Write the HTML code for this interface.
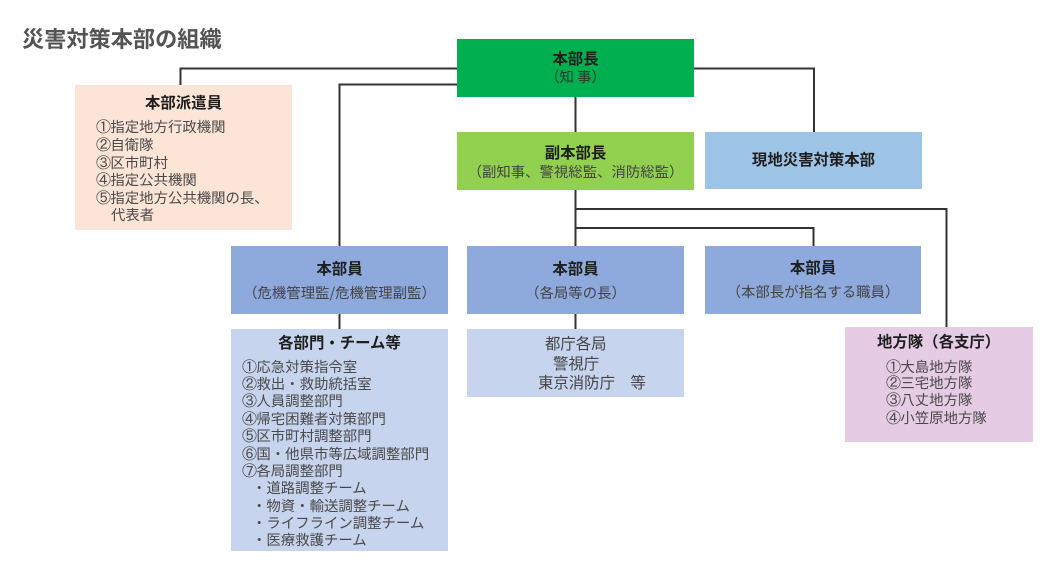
<!DOCTYPE html>
<html><head><meta charset="utf-8">
<style>
html,body{margin:0;padding:0;background:#fff;}
body{width:1057px;height:573px;position:relative;overflow:hidden;font-family:"Liberation Sans","Noto Sans CJK JP",sans-serif;}
.b{position:absolute;}
.t{position:absolute;white-space:nowrap;line-height:18px;height:18px;}
.c{text-align:center;}
.h{font-weight:bold;font-size:15.4px;color:#1e1e1e;font-family:"Noto Sans CJK JP",sans-serif;}
.s{font-size:14.4px;color:#444;font-family:"Noto Sans CJK JP",sans-serif;}
.i{font-size:14.4px;color:#4a4a4a;font-family:"Noto Sans CJK JP",sans-serif;}
.m{font-size:15.4px;color:#444;font-family:"Noto Sans CJK JP",sans-serif;}
.n{display:inline-block;width:14.4px;text-align:center;font-family:"IPAGothic","Noto Sans CJK JP",sans-serif;font-size:15px;}
</style></head><body>

<div class="t" style="left:22px;top:26px;font-size:22.2px;line-height:24px;height:24px;font-weight:bold;color:#545454;font-family:'Noto Sans CJK JP',sans-serif;">災害対策本部の組織</div>

<svg class="b" style="left:0;top:0" width="1057" height="573">
<g stroke="#333" stroke-width="2" fill="none">
<polyline points="180.5,85 180.5,68.5 457,68.5"/>
<polyline points="339.5,246 339.5,84.5 457,84.5"/>
<polyline points="694,68.5 814,68.5 814,132"/>
<line x1="575.5" y1="97" x2="575.5" y2="132"/>
<line x1="575.5" y1="190" x2="575.5" y2="246"/>
<polyline points="575.5,209 946.5,209 946.5,327"/>
<polyline points="575.5,228 813.5,228 813.5,246"/>
<line x1="339.5" y1="314" x2="339.5" y2="329"/>
<line x1="575.5" y1="314" x2="575.5" y2="329"/>
</g>
</svg>

<!-- boxes -->
<div class="b" style="left:75px;top:85px;width:217px;height:145px;background:#FCE4D6;"></div>
<div class="b" style="left:457px;top:39px;width:237px;height:58px;background:#00B050;"></div>
<div class="b" style="left:457px;top:132px;width:237px;height:58px;background:#92D050;"></div>
<div class="b" style="left:705px;top:132px;width:217px;height:57px;background:#9DC3E6;"></div>
<div class="b" style="left:231px;top:246px;width:217px;height:68px;background:#8EA9DB;"></div>
<div class="b" style="left:467px;top:246px;width:217px;height:68px;background:#8EA9DB;"></div>
<div class="b" style="left:705px;top:246px;width:216px;height:68px;background:#8EA9DB;"></div>
<div class="b" style="left:231px;top:329px;width:217px;height:222px;background:#C7D4EE;"></div>
<div class="b" style="left:467px;top:329px;width:217px;height:68px;background:#C7D4EE;"></div>
<div class="b" style="left:845px;top:327px;width:188px;height:115px;background:#E5CBE3;"></div>

<!-- pink -->
<div class="t c h" style="left:75px;width:217px;top:93px;">本部派遣員</div>
<div class="t i" style="left:96px;top:118px;"><span class="n">①</span>指定地方行政機関</div>
<div class="t i" style="left:96px;top:136px;"><span class="n">②</span>自衛隊</div>
<div class="t i" style="left:96px;top:154px;"><span class="n">③</span>区市町村</div>
<div class="t i" style="left:96px;top:171px;"><span class="n">④</span>指定公共機関</div>
<div class="t i" style="left:96px;top:189px;"><span class="n">⑤</span>指定地方公共機関の長、</div>
<div class="t i" style="left:111px;top:206px;">代表者</div>

<!-- green -->
<div class="t c h" style="left:457px;width:237px;top:49px;">本部長</div>
<div class="t c s" style="left:457px;width:237px;top:68px;color:#2a3a2a;">（知 事）</div>

<div class="t c h" style="left:457px;width:237px;top:143px;">副本部長</div>
<div class="t c s" style="left:457px;width:237px;top:163px;">（副知事、警視総監、消防総監）</div>

<div class="t c h" style="left:705px;width:217px;top:150px;">現地災害対策本部</div>

<!-- 本部員 -->
<div class="t c h" style="left:231px;width:217px;top:259px;">本部員</div>
<div class="t c s" style="left:231px;width:217px;top:284px;">（危機管理監/危機管理副監）</div>
<div class="t c h" style="left:467px;width:217px;top:259px;">本部員</div>
<div class="t c s" style="left:467px;width:217px;top:284px;">（各局等の長）</div>
<div class="t c h" style="left:705px;width:216px;top:258px;">本部員</div>
<div class="t c s" style="left:705px;width:216px;top:283px;">（本部長が指名する職員）</div>

<!-- 各部門 -->
<div class="t c h" style="left:231px;width:217px;top:333px;">各部門・チーム等</div>
<div class="t i" style="left:242px;top:358px;"><span class="n">①</span>応急対策指令室</div>
<div class="t i" style="left:242px;top:375px;"><span class="n">②</span>救出・救助統括室</div>
<div class="t i" style="left:242px;top:392px;"><span class="n">③</span>人員調整部門</div>
<div class="t i" style="left:242px;top:410px;"><span class="n">④</span>帰宅困難者対策部門</div>
<div class="t i" style="left:242px;top:427px;"><span class="n">⑤</span>区市町村調整部門</div>
<div class="t i" style="left:242px;top:445px;"><span class="n">⑥</span>国・他県市等広域調整部門</div>
<div class="t i" style="left:242px;top:462px;"><span class="n">⑦</span>各局調整部門</div>
<div class="t i" style="left:252px;top:479px;">・道路調整チーム</div>
<div class="t i" style="left:252px;top:497px;">・物資・輸送調整チーム</div>
<div class="t i" style="left:252px;top:514px;">・ライフライン調整チーム</div>
<div class="t i" style="left:252px;top:531px;">・医療救護チーム</div>

<!-- middle lower -->
<div class="t m" style="left:545px;top:334px;">都庁各局</div>
<div class="t m" style="left:553px;top:354px;">警視庁</div>
<div class="t m" style="left:538px;top:373px;">東京消防庁　等</div>

<!-- 地方隊 -->
<div class="t h" style="left:877px;top:332px;">地方隊（各支庁）</div>
<div class="t i" style="left:886px;top:358px;"><span class="n">①</span>大島地方隊</div>
<div class="t i" style="left:886px;top:374px;"><span class="n">②</span>三宅地方隊</div>
<div class="t i" style="left:886px;top:391px;"><span class="n">③</span>八丈地方隊</div>
<div class="t i" style="left:886px;top:409px;"><span class="n">④</span>小笠原地方隊</div>

</body></html>
